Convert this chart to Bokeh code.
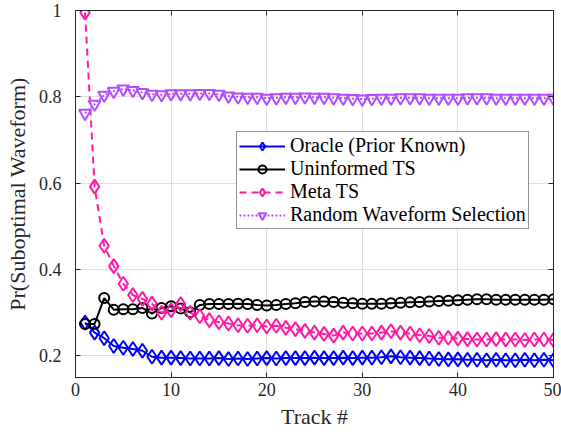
from bokeh.plotting import figure
from bokeh.models import (Range1d, LinearAxis, FixedTicker, CustomJSTickFormatter,
                          Legend, LegendItem)
from bokeh.embed import file_html
from bokeh.resources import INLINE

track = list(range(1, 51))

oracle = [0.277, 0.254, 0.241, 0.223, 0.219, 0.216, 0.212, 0.198, 0.196, 0.196,
          0.195, 0.194, 0.194, 0.194, 0.195, 0.193, 0.194, 0.193, 0.194, 0.195,
          0.194, 0.195, 0.195, 0.195, 0.196, 0.195, 0.195, 0.196, 0.195, 0.196,
          0.196, 0.197, 0.199, 0.197, 0.196, 0.195, 0.194, 0.193, 0.192, 0.192,
          0.191, 0.191, 0.190, 0.191, 0.190, 0.190, 0.191, 0.190, 0.191, 0.190]

uninformed = [0.274, 0.274, 0.334, 0.307, 0.308, 0.308, 0.311, 0.298, 0.311, 0.315,
              0.310, 0.301, 0.318, 0.320, 0.320, 0.320, 0.321, 0.320, 0.318, 0.317,
              0.318, 0.320, 0.322, 0.325, 0.326, 0.326, 0.325, 0.323, 0.322, 0.321,
              0.321, 0.321, 0.322, 0.323, 0.324, 0.325, 0.326, 0.327, 0.328, 0.329,
              0.330, 0.331, 0.331, 0.330, 0.330, 0.330, 0.330, 0.330, 0.330, 0.331]

meta = [0.995, 0.592, 0.455, 0.408, 0.367, 0.341, 0.332, 0.321, 0.300, 0.306,
        0.320, 0.300, 0.292, 0.283, 0.278, 0.275, 0.271, 0.270, 0.271, 0.268,
        0.270, 0.265, 0.262, 0.258, 0.254, 0.251, 0.247, 0.254, 0.252, 0.252,
        0.252, 0.254, 0.257, 0.254, 0.252, 0.248, 0.246, 0.242, 0.242, 0.240,
        0.239, 0.238, 0.238, 0.239, 0.238, 0.238, 0.237, 0.238, 0.238, 0.237]

random_sel = [0.762, 0.783, 0.804, 0.813, 0.818, 0.815, 0.810, 0.806, 0.805, 0.807,
              0.807, 0.807, 0.808, 0.808, 0.806, 0.802, 0.800, 0.799, 0.799, 0.797,
              0.798, 0.799, 0.799, 0.800, 0.799, 0.799, 0.798, 0.797, 0.796, 0.795,
              0.796, 0.797, 0.797, 0.798, 0.798, 0.798, 0.797, 0.797, 0.797, 0.797,
              0.798, 0.798, 0.798, 0.797, 0.797, 0.797, 0.797, 0.797, 0.797, 0.797]

x_ticks = [0, 10, 20, 30, 40, 50]
y_ticks = [0.2, 0.4, 0.6, 0.8, 1]

FONT = "Liberation Serif"
AX = "#262626"

p = figure(width=561, height=439, output_backend="svg", toolbar_location=None,
           x_range=Range1d(0, 50), y_range=Range1d(0.15, 1),
           min_border_left=75, min_border_right=8, min_border_top=10, min_border_bottom=62,
           x_axis_label="Track #", y_axis_label="Pr(Suboptimal Waveform)")
p.outline_line_color = AX
p.outline_line_width = 1
p.background_fill_color = "white"
p.border_fill_color = "white"

p.add_layout(LinearAxis(), "above")
p.add_layout(LinearAxis(), "right")

for ax in p.xaxis:
    ax.ticker = FixedTicker(ticks=x_ticks)
for ax in p.yaxis:
    ax.ticker = FixedTicker(ticks=y_ticks)
    ax.formatter = CustomJSTickFormatter(code="return String(tick);")

for ax in p.xaxis + p.yaxis:
    ax.axis_line_color = AX
    ax.major_tick_line_color = AX
    ax.major_tick_in = 5
    ax.major_tick_out = 0
    ax.minor_tick_line_color = None
    ax.major_label_text_font = FONT
    ax.major_label_text_font_size = "18px"
    ax.major_label_text_color = AX
    ax.axis_label_text_font = FONT
    ax.axis_label_text_font_size = "22px"
    ax.axis_label_text_font_style = "normal"
    ax.axis_label_text_color = AX

p.xaxis[0].major_label_standoff = 9
p.xaxis[0].axis_label_standoff = 7
p.yaxis[0].major_label_standoff = 14
p.yaxis[0].axis_label_standoff = 6
# box axes (top / right): ticks only, no labels drawn
for ax in (p.above[0], p.right[0]):
    ax.formatter = CustomJSTickFormatter(code="return '';")
    ax.major_label_text_color = None
    ax.major_label_standoff = 0
    ax.axis_label = None

p.xgrid.ticker = FixedTicker(ticks=x_ticks)
p.ygrid.ticker = FixedTicker(ticks=y_ticks)
p.xgrid.grid_line_color = "#dfdfdf"
p.ygrid.grid_line_color = "#dfdfdf"

BLUE = "#0000ff"
BLACK = "#000000"
PINK = "#ff1aa6"
PURPLE = "#b34dff"

l1 = p.line(track, oracle, line_color=BLUE, line_width=2)
s1 = p.scatter(track, oracle, marker="diamond", size=14, line_color=BLUE, line_width=2, fill_alpha=0)
l2 = p.line(track, uninformed, line_color=BLACK, line_width=2)
s2 = p.scatter(track, uninformed, marker="circle", size=10, line_color=BLACK, line_width=2, fill_alpha=0)
l3 = p.line(track, meta, line_color=PINK, line_width=2, line_dash="7 5")
s3 = p.scatter(track, meta, marker="diamond", size=14, line_color=PINK, line_width=2, fill_alpha=0)
l4 = p.line(track, random_sel, line_color=PURPLE, line_width=2, line_dash="2 2")
s4 = p.scatter(track, random_sel, marker="inverted_triangle", size=12, line_color=PURPLE, line_width=2, fill_alpha=0)

legend = Legend(items=[
    LegendItem(label="Oracle (Prior Known)", renderers=[l1, s1]),
    LegendItem(label="Uninformed TS", renderers=[l2, s2]),
    LegendItem(label="Meta TS", renderers=[l3, s3]),
    LegendItem(label="Random Waveform Selection", renderers=[l4, s4]),
], location=(161, 148))
legend.label_text_font = FONT
legend.label_text_font_size = "20px"
legend.label_text_color = BLACK
legend.glyph_width = 46
legend.glyph_height = 20
legend.label_standoff = 5
legend.spacing = 0
legend.padding = 2
legend.margin = 0
legend.label_height = 20
legend.border_line_color = AX
legend.border_line_width = 1
legend.background_fill_color = "white"
legend.background_fill_alpha = 1
p.add_layout(legend, "center")

open("out.html", "w").write(file_html(p, INLINE))
